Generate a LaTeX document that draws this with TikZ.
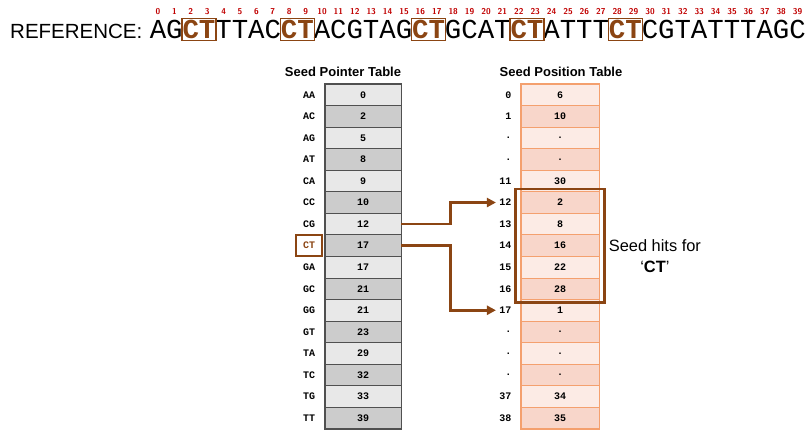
\documentclass[tikz,border=0pt]{standalone}
\usepackage{fontspec}
\setmainfont{Liberation Sans}
\setmonofont{Liberation Mono}
\usepackage{tikz}
\usetikzlibrary{shapes,arrows.meta,positioning,fit}
\definecolor{seedbrown}{RGB}{139,69,19}
\definecolor{ptrlight}{RGB}{232,232,232}
\definecolor{ptrdark}{RGB}{204,204,204}
\definecolor{ptrline}{RGB}{80,80,80}
\definecolor{poslight}{RGB}{252,235,229}
\definecolor{posdark}{RGB}{248,214,202}
\definecolor{posline}{RGB}{244,160,110}
\definecolor{idxred}{RGB}{192,0,0}
\tikzstyle{seed0} = [inner sep=0pt, text height=17pt, text depth=0pt, minimum width=16.4pt, anchor=base, font=\fontsize{27.4}{28}\ttfamily]
\tikzstyle{seed1} = [seed0, text=seedbrown, font=\fontsize{27.4}{28}\ttfamily\bfseries]
\tikzstyle{idxnum} = [inner sep=0pt, anchor=base, text=idxred, font=\fontsize{8.5}{8.5}\sffamily\bfseries]
\tikzstyle{hitbox} = [draw=seedbrown, line width=1.3pt, inner xsep=0.5pt, inner ysep=2pt]
\tikzstyle{title} = [inner sep=0pt, font=\fontsize{13}{13}\selectfont\bfseries]
\tikzstyle{ptrcell} = [draw=ptrline, line width=0.8pt, minimum width=76pt, minimum height=21.55pt, inner sep=0pt, font=\fontsize{10}{10}\ttfamily\bfseries]
\tikzstyle{poscell} = [ptrcell, draw=posline, minimum width=78pt]
\tikzstyle{seedlabel} = [font=\fontsize{10}{10}\ttfamily\bfseries]
\tikzstyle{ctlabel} = [seedlabel, text=seedbrown, draw=seedbrown, line width=1.5pt, minimum width=26pt, minimum height=21pt, inner sep=0pt]
\tikzstyle{posindex} = [anchor=east, font=\fontsize{10}{10}\ttfamily\bfseries]
\tikzstyle{seedbox} = [draw=seedbrown, line width=2.5pt, inner xsep=5pt, inner ysep=2.5pt]
\tikzstyle{pointer} = [-{Triangle[length=9pt,width=9pt]}, draw=seedbrown, line width=2.8pt]

\begin{document}
\begin{tikzpicture}[x=1pt,y=-1pt]
		\useasboundingbox (0,0) rectangle (806,429);
		
		% reference sequence
		\node [inner sep=0pt, anchor=base west, font=\fontsize{20.5}{21}\selectfont] (ref) at (10,38) {REFERENCE:};
		\foreach \ch/\h [count=\i from 0] in {A/0,G/0,C/1,T/1,T/0,T/0,A/0,C/0,C/1,T/1,A/0,C/0,G/0,T/0,A/0,G/0,C/1,T/1,G/0,C/0,A/0,T/0,C/1,T/1,A/0,T/0,T/0,T/0,C/1,T/1,C/0,G/0,T/0,A/0,T/0,T/0,T/0,A/0,G/0,C/0} {
			\node [seed\h] (c\i) at ({158+16.4*\i},38) {\ch};
			\node [idxnum] (n\i) at ({158+16.4*\i},14.5) {\i};
		}
		\foreach \a/\b in {2/3,8/9,16/17,22/23,28/29}
			\node [hitbox, fit=(c\a)(c\b)] (hb\a) {};
		
		% seed pointer table
		\node [title] (ptrtitle) at (343,72) {Seed Pointer Table};
		\foreach \lab/\val [count=\i from 0] in {AA/0,AC/2,AG/5,AT/8,CA/9,CC/10,CG/12,CT/17,GA/17,GC/21,GG/21,GT/23,TA/29,TC/32,TG/33,TT/39} {
			\ifodd\i \def\fc{ptrdark}\else\def\fc{ptrlight}\fi
			\ifnum\i=7 \def\ls{ctlabel}\else\def\ls{seedlabel}\fi
			\node [ptrcell, fill=\fc] (p\i) at (363,{84+(\i+0.5)*21.55}) {\val};
			\node [\ls] (l\i) at (309,{84+(\i+0.5)*21.55}) {\lab};
		}
		\draw [ptrline, line width=1.2pt] (p0.north west) rectangle (p15.south east);
		
		% seed position table
		\node [title] (postitle) at (561,72) {Seed Position Table};
		\foreach \idx/\val [count=\i from 0] in {0/6,1/10,./.,./.,11/30,12/2,13/8,14/16,15/22,16/28,17/1,./.,./.,./.,37/34,38/35} {
			\ifodd\i \def\fc{posdark}\else\def\fc{poslight}\fi
			\node [poscell, fill=\fc] (s\i) at (560,{84+(\i+0.5)*21.55}) {\val};
			\node [posindex] (i\i) at (515,{84+(\i+0.5)*21.55}) {\idx};
		}
		\draw [posline, line width=1.2pt] (s0.north west) rectangle (s15.south east);
		
		\draw [pointer] (p6.east) -- ++(49,0) |- (i5.west);
		\draw [pointer] (p7.east) -- ++(49,0) |- (i10.west);
		
		\node [seedbox, fit=(s5)(s9)] (hits) {};
		\node [right=3pt of hits, yshift=-11pt, align=center, inner sep=0pt, font=\fontsize{16.4}{21}\selectfont] (hitstext) {Seed hits for\\‘\textbf{CT}’};
		
\end{tikzpicture}
\end{document}
